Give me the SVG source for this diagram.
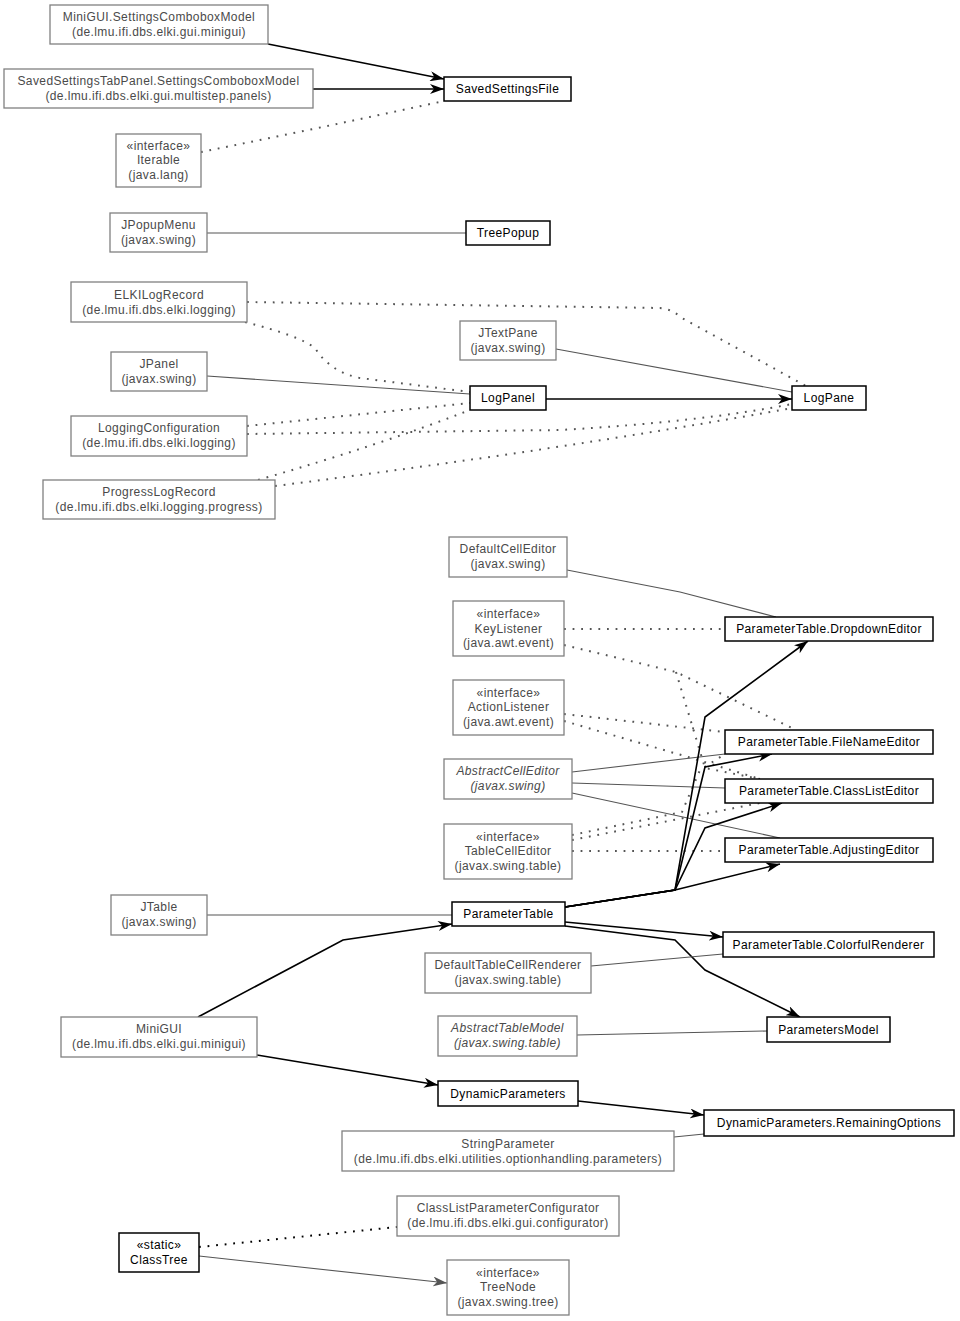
<svg xmlns="http://www.w3.org/2000/svg" width="960" height="1321" viewBox="0 0 960 1321">
<style>
text{font-family:"Liberation Sans",Arial,sans-serif;font-size:12px;letter-spacing:0.4px;text-anchor:middle}
.g rect{fill:#fff;stroke:#808080;stroke-width:1.3}
.g text{fill:#4a4a4a}
.b rect{fill:#fff;stroke:#000;stroke-width:1.5}
.b text{fill:#000}
.it text{font-style:italic}
.e{fill:none;stroke:#000;stroke-width:1.6}
.ge{fill:none;stroke:#555;stroke-width:1.1}
.d{fill:none;stroke:#555;stroke-width:2;stroke-dasharray:1.8 6.8}
.db{fill:none;stroke:#000;stroke-width:2;stroke-dasharray:1.8 6.8}
</style>
<defs>
<marker id="a" viewBox="0 0 14 10" refX="14" refY="5" markerWidth="14" markerHeight="10" orient="auto" markerUnits="userSpaceOnUse"><path d="M0,0 L14,5 L0,10 L4,5 z" fill="#000"/></marker>
<marker id="ag" viewBox="0 0 14 10" refX="14" refY="5" markerWidth="14" markerHeight="10" orient="auto" markerUnits="userSpaceOnUse"><path d="M0,0 L14,5 L0,10 L4,5 z" fill="#555"/></marker>
</defs>
<rect width="960" height="1321" fill="#fff"/>
<g id="connectors">
<path class="e" d="M268,44 L444,79" marker-end="url(#a)"/>
<path class="e" d="M313,89 L444,89" marker-end="url(#a)"/>
<path class="d" d="M201,152 Q320,128 444,101"/>
<path class="ge" d="M207,233 L466,233"/>
<path class="d" d="M247,302 L660,308 Q672,309 682,318 L806,386"/>
<path class="d" d="M245,322 Q300,336 315,348 Q330,372 360,378 L470,392"/>
<path class="ge" d="M556,349 L792,392"/>
<path class="ge" d="M207,376 L470,394"/>
<path class="e" d="M546,399 L792,399" marker-end="url(#a)"/>
<path class="d" d="M247,426 L470,403"/>
<path class="d" d="M247,434 L560,430 Q700,422 792,404"/>
<path class="d" d="M258,480 Q380,445 470,410"/>
<path class="d" d="M275,486 Q560,450 792,408"/>
<path class="ge" d="M567,570 L680,592 L776,617"/>
<path class="d" d="M564,629 L725,629"/>
<path class="d" d="M564,645 L676,672 L796,730"/>
<path class="d" d="M676,672 L705,768 L760,779"/>
<path class="d" d="M564,714 L725,732"/>
<path class="d" d="M564,721 L688,757 L760,779"/>
<path class="ge" d="M572,772 L725,754"/>
<path class="ge" d="M572,783 L725,788"/>
<path class="ge" d="M572,793 L780,838"/>
<path class="d" d="M572,835 L682,812 L700,770 L725,754"/>
<path class="d" d="M572,840 L760,803"/>
<path class="d" d="M572,851 L725,851"/>
<path class="e" d="M565,907 L675,890 L705,717 L808,641" marker-end="url(#a)"/>
<path class="e" d="M565,907 L675,890 L705,767 L772,754" marker-end="url(#a)"/>
<path class="e" d="M565,907 L675,890 L705,828 L782,803" marker-end="url(#a)"/>
<path class="e" d="M565,907 L675,890 L780,864" marker-end="url(#a)"/>
<path class="e" d="M565,922 L723,937" marker-end="url(#a)"/>
<path class="e" d="M565,926 L675,940 L705,970 L800,1017" marker-end="url(#a)"/>
<path class="e" d="M198,1017 L343,940 L452,924" marker-end="url(#a)"/>
<path class="e" d="M257,1055 L438,1085" marker-end="url(#a)"/>
<path class="e" d="M578,1101 L704,1115" marker-end="url(#a)"/>
<path class="ge" d="M674,1137 L704,1134"/>
<path class="ge" d="M207,915 L452,915"/>
<path class="ge" d="M591,966 L723,954"/>
<path class="ge" d="M577,1035 L767,1031"/>
<path class="db" d="M199,1247 L397,1227"/>
<path class="ge" d="M199,1256 L447,1283" marker-end="url(#ag)"/>
</g>
<g id="n1" class="g"><rect x="50" y="5" width="218" height="39"/><text x="159" y="21">MiniGUI.SettingsComboboxModel</text><text x="159" y="36">(de.lmu.ifi.dbs.elki.gui.minigui)</text></g>
<g id="n2" class="g"><rect x="4" y="69" width="309" height="39"/><text x="158.5" y="85">SavedSettingsTabPanel.SettingsComboboxModel</text><text x="158.5" y="100">(de.lmu.ifi.dbs.elki.gui.multistep.panels)</text></g>
<g id="n3" class="g"><rect x="116" y="134" width="85" height="53"/><text x="158.5" y="150">«interface»</text><text x="158.5" y="164">Iterable</text><text x="158.5" y="179">(java.lang)</text></g>
<g id="n4" class="b"><rect x="444" y="77" width="127" height="24"/><text x="507.5" y="93">SavedSettingsFile</text></g>
<g id="n5" class="g"><rect x="110" y="213" width="97" height="39"/><text x="158.5" y="229">JPopupMenu</text><text x="158.5" y="244">(javax.swing)</text></g>
<g id="n6" class="b"><rect x="466" y="221" width="84" height="24"/><text x="508" y="237">TreePopup</text></g>
<g id="n7" class="g"><rect x="71" y="282" width="176" height="40"/><text x="159" y="299">ELKILogRecord</text><text x="159" y="314">(de.lmu.ifi.dbs.elki.logging)</text></g>
<g id="n8" class="g"><rect x="460" y="321" width="96" height="39"/><text x="508" y="337">JTextPane</text><text x="508" y="352">(javax.swing)</text></g>
<g id="n9" class="g"><rect x="111" y="352" width="96" height="39"/><text x="159" y="368">JPanel</text><text x="159" y="383">(javax.swing)</text></g>
<g id="n10" class="b"><rect x="470" y="386" width="76" height="24"/><text x="508" y="402">LogPanel</text></g>
<g id="n11" class="b"><rect x="792" y="386" width="74" height="24"/><text x="829" y="402">LogPane</text></g>
<g id="n12" class="g"><rect x="71" y="416" width="176" height="40"/><text x="159" y="432">LoggingConfiguration</text><text x="159" y="447">(de.lmu.ifi.dbs.elki.logging)</text></g>
<g id="n13" class="g"><rect x="43" y="480" width="232" height="39"/><text x="159" y="496">ProgressLogRecord</text><text x="159" y="511">(de.lmu.ifi.dbs.elki.logging.progress)</text></g>
<g id="n14" class="g"><rect x="449" y="537" width="118" height="40"/><text x="508" y="553">DefaultCellEditor</text><text x="508" y="568">(javax.swing)</text></g>
<g id="n15" class="g"><rect x="453" y="601" width="111" height="55"/><text x="508.5" y="618">«interface»</text><text x="508.5" y="633">KeyListener</text><text x="508.5" y="647">(java.awt.event)</text></g>
<g id="n16" class="b"><rect x="725" y="617" width="208" height="24"/><text x="829" y="633">ParameterTable.DropdownEditor</text></g>
<g id="n17" class="g"><rect x="453" y="680" width="111" height="55"/><text x="508.5" y="697">«interface»</text><text x="508.5" y="711">ActionListener</text><text x="508.5" y="726">(java.awt.event)</text></g>
<g id="n18" class="b"><rect x="725" y="730" width="208" height="24"/><text x="829" y="746">ParameterTable.FileNameEditor</text></g>
<g id="n19" class="g it"><rect x="444" y="759" width="128" height="40"/><text x="508" y="775">AbstractCellEditor</text><text x="508" y="790">(javax.swing)</text></g>
<g id="n20" class="b"><rect x="725" y="779" width="208" height="24"/><text x="829" y="795">ParameterTable.ClassListEditor</text></g>
<g id="n21" class="g"><rect x="444" y="824" width="128" height="55"/><text x="508" y="841">«interface»</text><text x="508" y="855">TableCellEditor</text><text x="508" y="870">(javax.swing.table)</text></g>
<g id="n22" class="b"><rect x="725" y="838" width="208" height="24"/><text x="829" y="854">ParameterTable.AdjustingEditor</text></g>
<g id="n23" class="g"><rect x="111" y="895" width="96" height="40"/><text x="159" y="911">JTable</text><text x="159" y="926">(javax.swing)</text></g>
<g id="n24" class="b"><rect x="452" y="902" width="113" height="24"/><text x="508.5" y="918">ParameterTable</text></g>
<g id="n25" class="b"><rect x="723" y="932" width="211" height="25"/><text x="828.5" y="949">ParameterTable.ColorfulRenderer</text></g>
<g id="n26" class="g"><rect x="425" y="953" width="166" height="40"/><text x="508" y="969">DefaultTableCellRenderer</text><text x="508" y="984">(javax.swing.table)</text></g>
<g id="n27" class="g it"><rect x="438" y="1016" width="139" height="40"/><text x="507.5" y="1032">AbstractTableModel</text><text x="507.5" y="1047">(javax.swing.table)</text></g>
<g id="n28" class="b"><rect x="767" y="1017" width="123" height="25"/><text x="828.5" y="1034">ParametersModel</text></g>
<g id="n29" class="g"><rect x="61" y="1017" width="196" height="40"/><text x="159" y="1033">MiniGUI</text><text x="159" y="1048">(de.lmu.ifi.dbs.elki.gui.minigui)</text></g>
<g id="n30" class="b"><rect x="438" y="1081" width="140" height="25"/><text x="508" y="1098">DynamicParameters</text></g>
<g id="n31" class="b"><rect x="704" y="1110" width="250" height="26"/><text x="829" y="1127">DynamicParameters.RemainingOptions</text></g>
<g id="n32" class="g"><rect x="342" y="1131" width="332" height="40"/><text x="508" y="1148">StringParameter</text><text x="508" y="1163">(de.lmu.ifi.dbs.elki.utilities.optionhandling.parameters)</text></g>
<g id="n33" class="g"><rect x="397" y="1196" width="222" height="40"/><text x="508" y="1212">ClassListParameterConfigurator</text><text x="508" y="1227">(de.lmu.ifi.dbs.elki.gui.configurator)</text></g>
<g id="n34" class="b"><rect x="119" y="1233" width="80" height="39"/><text x="159" y="1249">«static»</text><text x="159" y="1264">ClassTree</text></g>
<g id="n35" class="g"><rect x="447" y="1260" width="122" height="55"/><text x="508" y="1277">«interface»</text><text x="508" y="1291">TreeNode</text><text x="508" y="1306">(javax.swing.tree)</text></g>
</svg>
